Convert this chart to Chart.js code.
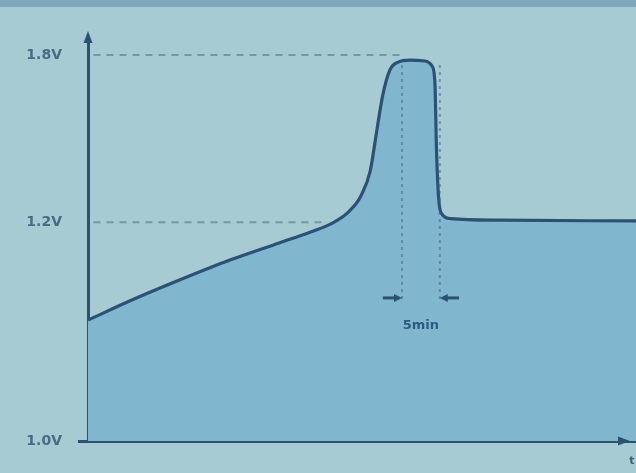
<!DOCTYPE html>
<html>
<head>
<meta charset="utf-8">
<script src="https://cdn.jsdelivr.net/npm/chart.js@4.4.1/dist/chart.umd.min.js"></script>
<style>
  html, body { margin: 0; padding: 0; background: #a7cbd2; }
  #wrap { width: 636px; height: 473px; }
</style>
</head>
<body>
<div id="wrap"><canvas id="c" width="636" height="473"></canvas></div>
<script>
// ---- data (schematic units) ----
const times  = [0, 7.7, 16.8, 25.9, 35.0, 40.5, 44.5, 47.5, 49.8, 51.5, 52.7, 53.8, 55.1, 56.6, 58.8, 61.5, 62.8, 63.3, 63.6, 64.0, 64.6, 66.1, 75.2, 100];
const levels = [30.0, 34.8, 40.0, 44.9, 49.2, 51.8, 54.0, 56.8, 60.8, 67.0, 77.0, 85.9, 92.1, 94.0, 94.5, 94.3, 93.0, 89.0, 72.0, 60.0, 56.3, 55.2, 54.8, 54.6];
const tickValues = [0, 54.3, 95.8];
const tickLabels = ["1.0V", "1.2V", "1.8V"];
const refLineEnds = [null, 43.5, 56.9];       // x where dashed level lines end
const markerTimes = [57.3, 64.2];              // the "5min" window
const markerSpan = [35.0, 93.3];               // vertical extent of marker lines
const arrowLevel = 35.5;
const arrowLen = 3.5;
const markerLabel = "5min";
const markerLabelLevel = 28.6;
const xAxisLabel = "t";

const LINE = '#2b5275';

const decor = {
  id: 'decor',
  beforeDraw(chart) {
    const ctx = chart.ctx;
    ctx.save();
    ctx.fillStyle = '#a7cbd2';
    ctx.fillRect(0, 0, chart.width, chart.height);
    ctx.fillStyle = '#7fa8bd';
    ctx.fillRect(0, 0, chart.width, 7);
    ctx.restore();
  },
  beforeDatasetsDraw(chart) {
    const {ctx, scales: {x, y}} = chart;
    ctx.save();
    ctx.strokeStyle = 'rgba(95,135,150,0.75)';
    ctx.lineWidth = 2;
    ctx.setLineDash([7, 6]);
    tickValues.forEach((v, i) => {
      if (refLineEnds[i] == null) return;
      ctx.beginPath();
      ctx.moveTo(x.getPixelForValue(1), y.getPixelForValue(v));
      ctx.lineTo(x.getPixelForValue(refLineEnds[i]), y.getPixelForValue(v));
      ctx.stroke();
    });
    ctx.restore();
  },
  afterDatasetsDraw(chart) {
    const {ctx, scales: {x, y}} = chart;
    ctx.save();
    ctx.strokeStyle = 'rgba(55,95,135,0.5)';
    ctx.lineWidth = 2;
    ctx.setLineDash([3, 4]);
    markerTimes.forEach(t => {
      ctx.beginPath();
      ctx.moveTo(x.getPixelForValue(t), y.getPixelForValue(markerSpan[1]));
      ctx.lineTo(x.getPixelForValue(t), y.getPixelForValue(markerSpan[0]));
      ctx.stroke();
    });
    ctx.setLineDash([]);
    ctx.strokeStyle = LINE;
    ctx.fillStyle = LINE;
    ctx.lineWidth = 3;
    const ay = y.getPixelForValue(arrowLevel);
    [[markerTimes[0] - arrowLen, markerTimes[0], 1], [markerTimes[1] + arrowLen, markerTimes[1], -1]].forEach(([a, b, d]) => {
      const xa = x.getPixelForValue(a), xb = x.getPixelForValue(b);
      ctx.beginPath();
      ctx.moveTo(xa, ay);
      ctx.lineTo(xb - d * 5, ay);
      ctx.stroke();
      ctx.beginPath();
      ctx.moveTo(xb, ay);
      ctx.lineTo(xb - d * 8, ay - 4);
      ctx.lineTo(xb - d * 8, ay + 4);
      ctx.closePath();
      ctx.fill();
    });
    ctx.font = 'bold 13px "DejaVu Sans"';
    ctx.textAlign = 'center';
    ctx.textBaseline = 'middle';
    ctx.fillStyle = '#2f5a82';
    ctx.fillText(markerLabel, x.getPixelForValue((markerTimes[0] + markerTimes[1]) / 2), y.getPixelForValue(markerLabelLevel));
    const ax = x.left, top = y.top, bot = y.bottom;
    ctx.fillStyle = LINE;
    ctx.beginPath();
    ctx.moveTo(ax, top - 7);
    ctx.lineTo(ax - 4.5, top + 5);
    ctx.lineTo(ax + 4.5, top + 5);
    ctx.closePath();
    ctx.fill();
    const tipX = x.right - 6;
    ctx.beginPath();
    ctx.moveTo(tipX, bot);
    ctx.lineTo(tipX - 12, bot - 4.5);
    ctx.lineTo(tipX - 12, bot + 4.5);
    ctx.closePath();
    ctx.fill();
    ctx.font = 'bold 11px "DejaVu Sans"';
    ctx.fillStyle = '#3d6079';
    ctx.fillText(xAxisLabel, tipX + 2, bot + 20);
    ctx.restore();
  }
};

new Chart(document.getElementById('c'), {
  type: 'line',
  data: {
    labels: times,
    datasets: [{
      data: times.map((t, i) => ({x: t, y: levels[i]})),
      borderColor: LINE,
      borderWidth: 3.2,
      backgroundColor: '#80b6ce',
      fill: 'start',
      pointRadius: 0,
      cubicInterpolationMode: 'monotone'
    }]
  },
  options: {
    responsive: false,
    animation: false,
    devicePixelRatio: 1,
    layout: { padding: { top: 38, right: 0, left: 0, bottom: 0 } },
    plugins: { legend: { display: false }, tooltip: { enabled: false } },
    scales: {
      x: {
        type: 'linear', min: 0, max: 100,
        grid: { display: false },
        ticks: { display: false },
        border: { display: true, color: LINE, width: 3 },
        afterFit(s) { s.height = 32; }
      },
      y: {
        type: 'linear', min: 0, max: 100,
        afterBuildTicks(s) { s.ticks = tickValues.map(v => ({ value: v })); },
        ticks: {
          autoSkip: false,
          padding: 16,
          color: '#4a6c82',
          font: { family: '"DejaVu Sans"', size: 14, weight: 'bold' },
          callback(v) { const i = tickValues.indexOf(v); return i >= 0 ? tickLabels[i] : ''; }
        },
        grid: {
          drawOnChartArea: false, drawTicks: true, tickLength: 10, lineWidth: 3,
          color: ctx => (ctx.tick && ctx.tick.value === 0) ? LINE : 'rgba(0,0,0,0)'
        },
        border: { display: true, color: LINE, width: 3 },
        afterFit(s) { s.width = 88; }
      }
    }
  },
  plugins: [decor]
});
</script>
</body>
</html>
